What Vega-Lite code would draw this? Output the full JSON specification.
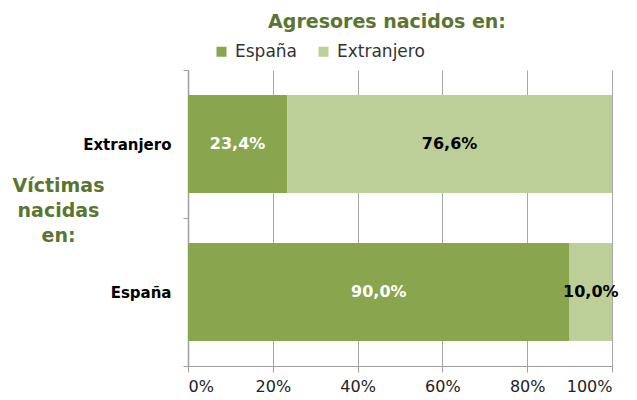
{
  "$schema": "https://vega.github.io/schema/vega-lite/v6.json",
  "autosize": {"type": "none"},
  "width": 424,
  "height": 296,
  "padding": {"left": 188, "top": 70, "right": 25, "bottom": 34},
  "background": "white",
  "title": {
    "text": "Agresores nacidos en:",
    "font": "DejaVu Sans",
    "fontSize": 19,
    "fontWeight": "bold",
    "color": "#5a7531",
    "anchor": "middle",
    "dx": -13,
    "dy": 16,
    "baseline": "alphabetic",
    "offset": 12
  },
  "data": {
    "values": [
      {"victima": "Extranjero", "agresor": "España", "valor": 0.234, "etiqueta": "23,4%"},
      {"victima": "Extranjero", "agresor": "Extranjero", "valor": 0.766, "etiqueta": "76,6%"},
      {"victima": "España", "agresor": "España", "valor": 0.900, "etiqueta": "90,0%"},
      {"victima": "España", "agresor": "Extranjero", "valor": 0.100, "etiqueta": "10,0%"}
    ]
  },
  "transform": [
    {"stack": "valor", "groupby": ["victima"], "sort": [{"field": "agresor", "order": "ascending"}], "as": ["v0", "v1"]}
  ],
  "encoding": {
    "y": {
      "field": "victima",
      "type": "nominal",
      "sort": ["Extranjero", "España"],
      "scale": {"paddingInner": 0, "paddingOuter": 0},
      "axis": {
        "title": ["Víctimas", "nacidas", "en:"],
        "titleAngle": 0,
        "titleAlign": "center",
        "titleBaseline": "top",
        "titleX": -130,
        "titleY": 106,
        "titleFont": "DejaVu Sans",
        "titleFontSize": 19,
        "titleFontWeight": "bold",
        "titleColor": "#5a7531",
        "titleLineHeight": 25,
        "labelFont": "DejaVu Sans",
        "labelFontSize": 15,
        "labelFontWeight": "bold",
        "labelColor": "#000000",
        "labelPadding": 12,
        "tickBand": "extent",
        "tickSize": 5,
        "tickColor": "#a0a0a0",
        "domainColor": "#a0a0a0",
        "domainWidth": 1.5,
        "grid": false
      }
    }
  },
  "layer": [
    {
      "mark": {"type": "bar", "stroke": null, "height": {"band": 0.662}},
      "encoding": {
        "x": {
          "field": "v0",
          "type": "quantitative",
          "scale": {"domain": [0, 1], "nice": false},
          "axis": {
            "title": null,
            "format": ".0%",
            "values": [0, 0.2, 0.4, 0.6, 0.8, 1],
            "labelFont": "DejaVu Sans",
            "labelFontSize": 16,
            "labelColor": "#222222",
            "labelPadding": 6,
            "tickSize": 6,
            "tickColor": "#a0a0a0",
            "domainColor": "#a0a0a0",
            "grid": true,
            "gridColor": "#a6a6a6",
            "gridWidth": 1
          }
        },
        "x2": {"field": "v1"},
        "color": {
          "field": "agresor",
          "type": "nominal",
          "scale": {"domain": ["España", "Extranjero"], "range": ["#89a54e", "#bccf98"]},
          "legend": {
            "title": null,
            "orient": "none",
            "direction": "horizontal",
            "legendX": 25,
            "legendY": -27,
            "symbolType": "square",
            "symbolSize": 100,
            "symbolStrokeWidth": 0,
            "labelFont": "DejaVu Sans",
            "labelFontSize": 17,
            "labelColor": "#333333",
            "labelOffset": 5,
            "columnPadding": 18,
            "padding": 0
          }
        }
      }
    },
    {
      "transform": [
        {"fold": ["v0", "v1"], "as": ["borde", "pos"]},
        {"aggregate": [{"op": "mean", "field": "pos", "as": "medio"}], "groupby": ["victima", "agresor", "etiqueta"]}
      ],
      "mark": {"type": "text", "font": "DejaVu Sans", "fontSize": 16, "fontWeight": "bold"},
      "encoding": {
        "x": {"field": "medio", "type": "quantitative"},
        "text": {"field": "etiqueta", "type": "nominal"},
        "color": {
          "field": "agresor",
          "type": "nominal",
          "scale": {"domain": ["España", "Extranjero"], "range": ["#ffffff", "#000000"]},
          "legend": null
        }
      }
    }
  ],
  "resolve": {"scale": {"color": "independent"}},
  "config": {"view": {"stroke": null}}
}
